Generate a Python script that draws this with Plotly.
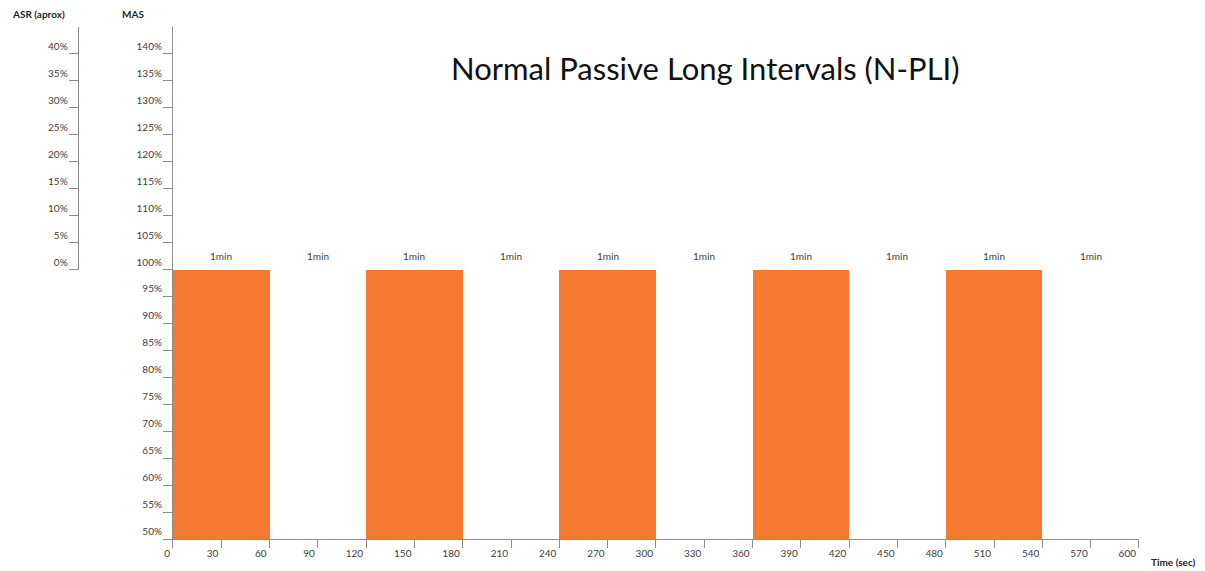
import plotly.graph_objects as go

# ---- data ----
work_start = [0, 120, 240, 360, 480]          # sec
work_duration = [60, 60, 60, 60, 60]          # sec
work_intensity = [100, 100, 100, 100, 100]    # % MAS
baseline = 50                                 # % MAS (axis floor)
interval_centers = [30, 90, 150, 210, 270, 330, 390, 450, 510, 570]
interval_labels = ["1min"] * 10
x_ticks = list(range(0, 601, 30))
mas_ticks = list(range(50, 141, 5))
asr_ticks = list(range(0, 41, 5))

FONT = "Lato, 'Open Sans', sans-serif"
ORANGE = "#F47A30"
AXIS = "#8c8c8c"
TXT = "#404040"

OFF = 8                      # page body margin
W, H = 1205 - OFF, 571 - OFF
# target plot area in screen pixels
SX0, SX1, SY0, SY1 = 173, 1139.3, 26.7, 539.3
L = 60 - OFF
R = W - (SX1 - OFF)
T = SY0 - OFF
B = H - (SY1 - OFF)
plot_w = W - L - R
plot_h = H - T - B
x_dom0 = (SX0 - OFF - L) / plot_w
asr_pos = (77.7 - OFF - L) / plot_w


def px(x):
    return (x - OFF - L) / plot_w


def py(y):
    return (H - B - (y - OFF)) / plot_h


fig = go.Figure()
fig.add_trace(go.Bar(
    x=[s + d / 2 for s, d in zip(work_start, work_duration)],
    y=[v - baseline for v in work_intensity],
    base=baseline,
    width=work_duration,
    marker=dict(color=ORANGE, line=dict(width=0)),
    hoverinfo="skip",
    showlegend=False,
))
# invisible trace to activate ASR axis
fig.add_trace(go.Scatter(x=[0], y=[0], yaxis="y2", mode="markers",
                         marker=dict(opacity=0), showlegend=False, hoverinfo="skip"))

for xc, lab in zip(interval_centers, interval_labels):
    fig.add_annotation(x=xc, y=102.5, text=lab, showarrow=False,
                       xanchor="center", yanchor="middle",
                       font=dict(family=FONT, size=10, color=TXT), xref="x", yref="y")

yax_common = dict(ticks="outside", ticklen=9, tickcolor=AXIS, tickwidth=1,
                  showline=True, linecolor=AXIS, linewidth=1,
                  showgrid=False, zeroline=False, automargin=False,
                  ticklabelposition="outside top", ticklabelstandoff=8,
                  tickfont=dict(family=FONT, size=10, color=TXT))

fig.update_layout(
    width=W, height=H,
    margin=dict(l=L, r=R, t=T, b=B),
    plot_bgcolor="white", paper_bgcolor="white",
    font=dict(family=FONT, size=10, color=TXT),
    bargap=0,
    xaxis=dict(domain=[x_dom0, 1], range=[0, 600], tickvals=x_ticks,
               ticks="outside", ticklen=8, tickcolor=AXIS, tickwidth=1,
               showline=True, linecolor=AXIS, linewidth=1,
               showgrid=False, zeroline=False, automargin=False,
               ticklabelposition="outside left", ticklabelshift=-2,
               ticklabelstandoff=5,
               tickfont=dict(family=FONT, size=10, color=TXT)),
    yaxis=dict(range=[50, 145], tickvals=mas_ticks,
               ticktext=[f"{v}%" for v in mas_ticks], **yax_common),
    yaxis2=dict(domain=[1 - 45 / 95, 1], range=[0, 45], anchor="free",
                position=asr_pos,
                tickvals=asr_ticks, ticktext=[f"{v}%" for v in asr_ticks],
                **yax_common),
)

pixel_texts = [
    ("<b>ASR (aprox)</b>", 38, 14, 10, "#262626"),
    ("<b>MAS</b>", 133, 14, 10, "#262626"),
    ("<b>Time (sec)</b>", 1174, 562, 10, "#262626"),
    ("Normal Passive Long Intervals (N-PLI)", 706, 68, 31, "#111111"),
]
for text, x, y, size, color in pixel_texts:
    fig.add_annotation(text=text, x=px(x), y=py(y), xref="paper", yref="paper",
                       xanchor="center", yanchor="middle", showarrow=False,
                       font=dict(family=FONT, size=size, color=color))

fig.write_html("out.html")
